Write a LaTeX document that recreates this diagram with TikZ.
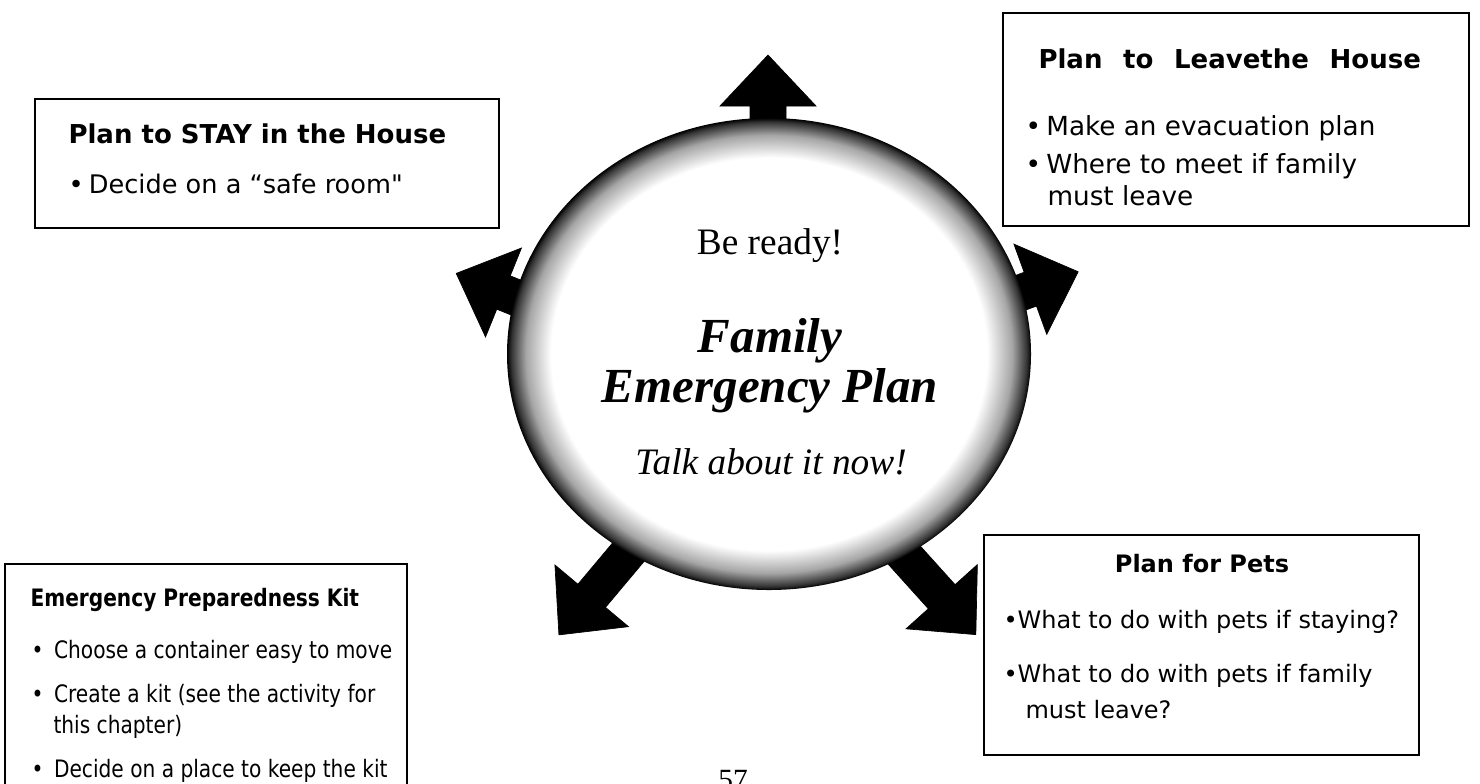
\documentclass[tikz,border=0pt]{standalone}
\usepackage{fontspec}
\setmainfont{Liberation Serif}
\newfontfamily\boxfont{DejaVu Sans}
\newfontfamily\kitfont[FakeStretch=0.84]{DejaVu Sans}
\pgfdeclareradialshading{rimshade}{\pgfpoint{0bp}{0bp}}{color(0bp)=(white); color(20.8bp)=(white); color(23.2bp)=(black!35); color(24.6bp)=(black!80); color(25bp)=(black); color(50bp)=(black)}

\tikzset{every picture/.style={line width=0.75pt}}
\tikzset{
	blockarrow/.style={fill=black, draw=black, line width=0.5pt},
	textbox/.style={draw=black, line width=1.1pt},
	boxtitle/.style={anchor=base west, inner sep=0pt, font=\boxfont\fontsize{19.5}{23}\selectfont\bfseries},
	boxline/.style={anchor=base west, inner sep=0pt, font=\boxfont\fontsize{19.7}{23}\selectfont},
	kittitle/.style={anchor=base west, inner sep=0pt, font=\kitfont\fontsize{18}{22}\selectfont\bfseries},
	kitline/.style={anchor=base west, inner sep=0pt, font=\kitfont\fontsize{18}{22}\selectfont},
	petline/.style={anchor=base west, inner sep=0pt, font=\boxfont\fontsize{18}{22}\selectfont},
	plantext/.style={anchor=base, inner sep=0pt, font=\fontsize{36.75}{42}\selectfont\bfseries\itshape}
}

\begin{document}
\begin{tikzpicture}[x=0.75pt,y=0.75pt,yscale=-1,xscale=1]
	\useasboundingbox (0,0) rectangle (1480,783);
	
	%Shape: Block Arrow (up)
	\draw [shift={(768,106)}, rotate=-90] [blockarrow] (-40,-18) -- (0,-18) -- (0,-48) -- (51,0) -- (0,48) -- (0,18) -- (-40,18) -- cycle ;
	%Shape: Block Arrow (upper left)
	\draw [shift={(503.5,292.5)}, rotate=-158] [blockarrow] (-45,-18) -- (0,-18) -- (0,-48) -- (51,0) -- (0,48) -- (0,18) -- (-45,18) -- cycle ;
	%Shape: Block Arrow (upper right)
	\draw [shift={(1030.3,289.2)}, rotate=-20] [blockarrow] (-45,-18) -- (0,-18) -- (0,-48) -- (51,0) -- (0,48) -- (0,18) -- (-45,18) -- cycle ;
	%Shape: Block Arrow (lower left)
	\draw [shift={(591.7,595.8)}, rotate=130] [blockarrow] (-70,-18) -- (0,-18) -- (0,-48) -- (51,0) -- (0,48) -- (0,18) -- (-70,18) -- cycle ;
	%Shape: Block Arrow (lower right)
	\draw [shift={(941.7,596.7)}, rotate=48] [blockarrow] (-70,-18) -- (0,-18) -- (0,-48) -- (51,0) -- (0,48) -- (0,18) -- (-70,18) -- cycle ;
	
	%Shape: Circle
	\shade [shading=rimshade] (769,354) ellipse (262 and 236) ;
	
	%Shape: Rectangle
	\draw [textbox] (35,99) rectangle (499,228) ;
	%Shape: Rectangle
	\draw [textbox] (1003,13) rectangle (1469,226) ;
	%Shape: Rectangle
	\draw [textbox] (5,564) rectangle (407,820) ;
	%Shape: Rectangle
	\draw [textbox] (984,535) rectangle (1419,755) ;
	
	% Text Node
	\draw (770,254) node [anchor=base][inner sep=0pt] (beready) {\fontsize{28}{32}\selectfont Be ready!};
	% Text Node
	\draw (770,352) node [plantext] (family) {Family};
	% Text Node
	\draw (770,402) node [plantext] (emergency) {Emergency Plan};
	% Text Node
	\draw (771,474) node [anchor=base][inner sep=0pt] (talk) {\fontsize{28}{32}\selectfont\itshape Talk about it now!};
	% Text Node
	\draw (733,789) node [anchor=base][inner sep=0pt] (pagenum) {\fontsize{22}{26}\selectfont 57};
	
	% Text Node
	\draw (68,143) node [boxtitle] (staytitle) {Plan to STAY in the House};
	% Text Node
	\draw (68,193) node [boxline, font=\boxfont\fontsize{19.2}{23}\selectfont] (stayone) {•\hspace{4pt}Decide on a “safe room"};
	
	% Text Node
	\draw (1038,68) node [boxtitle] (leavetitle) {Plan\hspace{15.5pt}to\hspace{15.5pt}Leavethe\hspace{15.5pt}House};
	% Text Node
	\draw (1025,135) node [boxline] (leaveone) {•\hspace{4pt}Make an evacuation plan};
	% Text Node
	\draw (1025,173) node [boxline] (leavetwo) {•\hspace{4pt}Where to meet if family};
	% Text Node
	\draw (1047,205) node [boxline] (leavethree) {must leave};
	
	% Text Node
	\draw (30,606) node [kittitle] (kittitle) {Emergency Preparedness Kit};
	% Text Node
	\draw (31,658) node [kitline] (kitone) {•\hspace{8pt}Choose a container easy to move};
	% Text Node
	\draw (31,702) node [kitline] (kittwo) {•\hspace{8pt}Create a kit (see the activity for};
	% Text Node
	\draw (53,733) node [kitline] (kitthree) {this chapter)};
	% Text Node
	\draw (31,777) node [kitline] (kitfour) {•\hspace{8pt}Decide on a place to keep the kit};
	
	% Text Node
	\draw (1202,572) node [anchor=base][inner sep=0pt, font=\boxfont\fontsize{18}{22}\selectfont\bfseries] (pettitle) {Plan for Pets};
	% Text Node
	\draw (1003,628) node [petline] (petone) {•What to do with pets if staying?};
	% Text Node
	\draw (1003,682) node [petline] (pettwo) {•What to do with pets if family};
	% Text Node
	\draw (1025,718) node [petline] (petthree) {must leave?};
	
\end{tikzpicture}
\end{document}
